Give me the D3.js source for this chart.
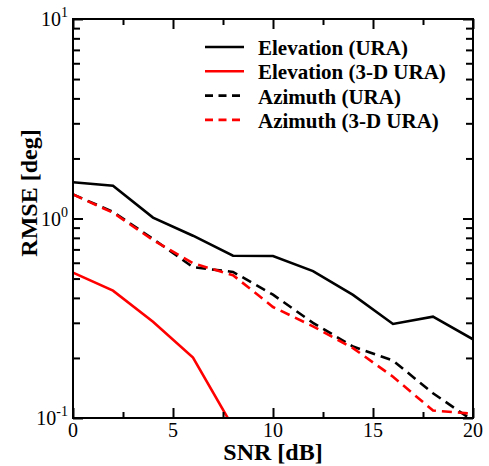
<!DOCTYPE html>
<html>
<head>
<meta charset="utf-8">
<script src="https://cdn.jsdelivr.net/npm/d3@7"></script>
<style>
  html, body { margin: 0; padding: 0; background: #fff; }
  text { font-family: "Liberation Serif", "Times New Roman", serif; }
</style>
</head>
<body>
<svg id="chart" width="489" height="466"></svg>
<script>
// SNR sweep (dB)
const snr = [0, 2, 4, 6, 8, 10, 12, 14, 16, 18, 20];

// RMSE in degrees for each estimator
const elevURA   = [1.52, 1.46, 1.01, 0.82, 0.651, 0.649, 0.545, 0.414, 0.296, 0.322, 0.248];
const elev3D    = [0.535, 0.435, 0.304, 0.201, 0.09];
const azimURA   = [1.32, 1.08, 0.79, 0.57, 0.54, 0.415, 0.30, 0.228, 0.194, 0.133, 0.097];
const azim3D    = [1.32, 1.07, 0.78, 0.596, 0.52, 0.36, 0.288, 0.224, 0.161, 0.109, 0.105];

const seriesNames = ["Elevation (URA)", "Elevation (3-D URA)", "Azimuth (URA)", "Azimuth (3-D URA)"];
const xTicks = [0, 5, 10, 15, 20];
const yTickExps = [-1, 0, 1];

const series = [
  { name: seriesNames[0], values: elevURA, color: "#000", dash: null },
  { name: seriesNames[1], values: elev3D,  color: "#ff0000", dash: null },
  { name: seriesNames[2], values: azimURA, color: "#000", dash: "10,6" },
  { name: seriesNames[3], values: azim3D,  color: "#ff0000", dash: "10,6" }
];

const svg = d3.select("#chart");
const m = { left: 73, top: 19, right: 473, bottom: 418 };

const x = d3.scaleLinear().domain([0, 20]).range([m.left, m.right]);
const y = d3.scaleLog().domain([0.1, 10]).range([m.bottom, m.top]);

svg.append("defs").append("clipPath").attr("id", "plotClip")
  .append("rect")
  .attr("x", m.left).attr("y", m.top)
  .attr("width", m.right - m.left).attr("height", m.bottom - m.top);

// curves
const line = d3.line().x((d, i) => x(snr[i])).y(d => y(d));
const g = svg.append("g").attr("clip-path", "url(#plotClip)");
series.forEach(s => {
  g.append("path")
    .datum(s.values)
    .attr("d", line)
    .attr("fill", "none")
    .attr("stroke", s.color)
    .attr("stroke-width", 2.6)
    .attr("stroke-dasharray", s.dash);
});

// inward ticks on all four sides
const minorX = d3.range(0, 20.01, 2.5).filter(v => v % 5 !== 0);
const minorY = [];
[0.1, 1].forEach(b => { for (let k = 2; k <= 9; k++) minorY.push(b * k); });
const majorY = yTickExps.map(e => Math.pow(10, e));

const axisB = d3.axisBottom(x).tickValues(xTicks).tickSize(-10).tickFormat("");
const axisBm = d3.axisBottom(x).tickValues(minorX).tickSize(-6).tickFormat("");
const axisT = d3.axisTop(x).tickValues(xTicks).tickSize(-10).tickFormat("");
const axisTm = d3.axisTop(x).tickValues(minorX).tickSize(-6).tickFormat("");
const axisL = d3.axisLeft(y).tickValues(majorY).tickSize(-10).tickFormat("");
const axisLm = d3.axisLeft(y).tickValues(minorY).tickSize(-7).tickFormat("");
const axisR = d3.axisRight(y).tickValues(majorY).tickSize(-10).tickFormat("");
const axisRm = d3.axisRight(y).tickValues(minorY).tickSize(-7).tickFormat("");

function addAxis(ax, tx, ty) {
  const a = svg.append("g").attr("transform", `translate(${tx},${ty})`).call(ax);
  a.select(".domain").remove();
  a.selectAll("line").attr("stroke", "#000").attr("stroke-width", 2);
}
addAxis(axisB, 0, m.bottom); addAxis(axisBm, 0, m.bottom);
addAxis(axisT, 0, m.top); addAxis(axisTm, 0, m.top);
addAxis(axisL, m.left, 0); addAxis(axisLm, m.left, 0);
addAxis(axisR, m.right, 0); addAxis(axisRm, m.right, 0);

// frame
svg.append("rect")
  .attr("x", m.left).attr("y", m.top)
  .attr("width", m.right - m.left).attr("height", m.bottom - m.top)
  .attr("fill", "none").attr("stroke", "#000").attr("stroke-width", 2);

// x tick labels
svg.append("g").selectAll("text").data(xTicks).join("text")
  .attr("x", d => x(d)).attr("y", m.bottom + 19)
  .attr("text-anchor", "middle")
  .attr("font-size", 20)
  .text(d => d);

// y tick labels: 10 with superscript exponent
const yl = svg.append("g").selectAll("text").data(yTickExps).join("text")
  .attr("x", m.left - 5).attr("y", d => y(Math.pow(10, d)) + 7)
  .attr("text-anchor", "end")
  .attr("font-size", 20);
yl.append("tspan").text("10");
yl.append("tspan").attr("font-size", 14).attr("dy", -9).text(d => d);

// axis titles
svg.append("text")
  .attr("x", (m.left + m.right) / 2).attr("y", 460)
  .attr("text-anchor", "middle")
  .attr("font-size", 24).attr("font-weight", "bold")
  .text("SNR [dB]");
svg.append("text")
  .attr("transform", `translate(37,193) rotate(-90)`)
  .attr("text-anchor", "middle")
  .attr("font-size", 24).attr("font-weight", "bold")
  .text("RMSE [deg]");

// legend
const lg = svg.append("g");
series.forEach((s, i) => {
  const cy = 47 + i * 24.3;
  lg.append("line")
    .attr("x1", 205).attr("x2", 244).attr("y1", cy).attr("y2", cy)
    .attr("stroke", s.color).attr("stroke-width", 2.6)
    .attr("stroke-dasharray", s.dash ? "8,5.5" : null);
  lg.append("text")
    .attr("x", 258).attr("y", cy + 8)
    .attr("font-size", 21).attr("font-weight", "bold")
    .text(s.name);
});
</script>
</body>
</html>
